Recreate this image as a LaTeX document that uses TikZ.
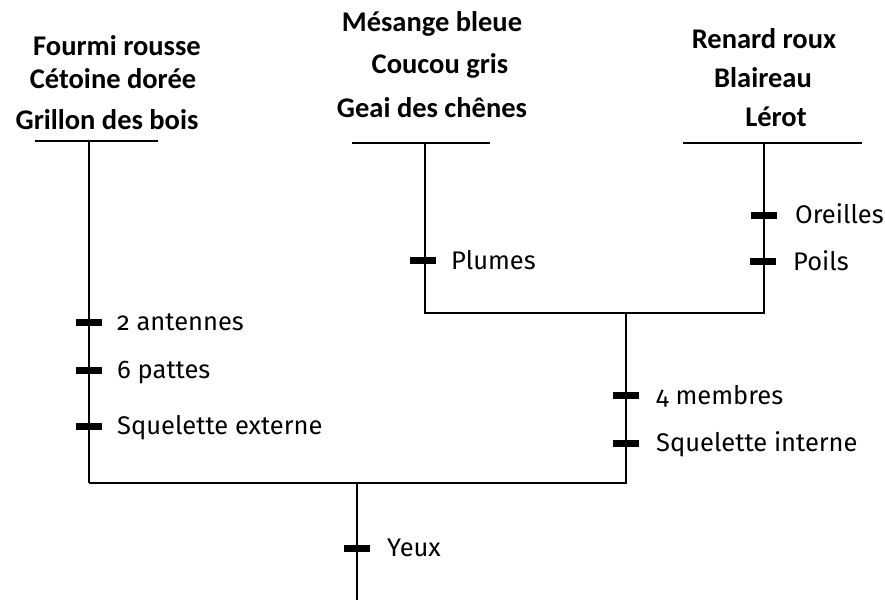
\documentclass[tikz,border=0pt]{standalone}
\usepackage{fontspec}
\setmainfont{Fira Sans}[Numbers=OldStyle]
\newfontfamily\topfont{Carlito}
\begin{document}
\begin{tikzpicture}[x=1pt,y=-1pt,
  branch/.style={line width=1.6pt},
  tick/.style={draw=none,fill=black,minimum width=26pt,minimum height=7pt,inner sep=0pt,rectangle},
  lab/.style={anchor=base west,yshift=-8.5pt,font=\fontsize{25.5}{27}\selectfont,inner sep=0pt},
  taxon/.style={font=\topfont\bfseries\fontsize{28.5}{30}\selectfont,inner sep=0pt}]
\useasboundingbox (0,0) rectangle (885,600);
% junctions
\coordinate (lt) at (89,141);
\coordinate (ll) at (35,141);
\coordinate (lr) at (158,141);
\coordinate (mt) at (425,143);
\coordinate (ml) at (352,143);
\coordinate (mr) at (490,143);
\coordinate (rt) at (764,143);
\coordinate (rl) at (683,143);
\coordinate (rr) at (862,143);
\coordinate (mb) at (425,313);
\coordinate (rb) at (764,313);
\coordinate (vt) at (626,313);
\coordinate (vb) at (626,483);
\coordinate (lb) at (89,483);
\coordinate (root) at (357,483);
\coordinate (rootend) at (357,600);
% lines
\draw[branch] (ll) -- (lr);
\draw[branch] (ml) -- (mr);
\draw[branch] (rl) -- (rr);
\draw[branch] (lt) -- (lb);
\draw[branch] (mt) -- (mb) -- (rb) -- (rt);
\draw[branch] (vt) -- (vb) -- (lb);
\draw[branch] (root) -- (rootend);
% ticks
\node[tick] (t1) at (89,322) {};
\node[tick] (t2) at (89,370) {};
\node[tick] (t3) at (89,426) {};
\node[tick] (t4) at (423,260) {};
\node[tick] (t5) at (764,215) {};
\node[tick] (t6) at (763,261) {};
\node[tick] (t7) at (626,395) {};
\node[tick] (t8) at (626,443) {};
\node[tick] (t9) at (357,548) {};
% character labels
\node[lab] (c1) at (117,322) {2 antennes};
\node[lab] (c2) at (117,370) {6 pattes};
\node[lab] (c3) at (117,426) {Squelette externe};
\node[lab] (c4) at (451,261) {Plumes};
\node[lab] (c5) at (795,215) {Oreilles};
\node[lab] (c6) at (793,262) {Poils};
\node[lab] (c7) at (656,396) {4 membres};
\node[lab] (c8) at (656,443) {Squelette interne};
\node[lab] (c9) at (387,548) {Yeux};
% taxa
\node[taxon] (a1) at (117,46) {Fourmi rousse};
\node[taxon] (a2) at (113,79) {Cétoine dorée};
\node[taxon] (a3) at (107,120) {Grillon des bois};
\node[taxon] (b1) at (432,24) {Mésange bleue};
\node[taxon] (b2) at (440,66) {Coucou gris};
\node[taxon] (b3) at (432,108) {Geai des chênes};
\node[taxon] (d1) at (764,39) {Renard roux};
\node[taxon] (d2) at (763,78) {Blaireau};
\node[taxon] (d3) at (776,117) {Lérot};
\end{tikzpicture}
\end{document}
